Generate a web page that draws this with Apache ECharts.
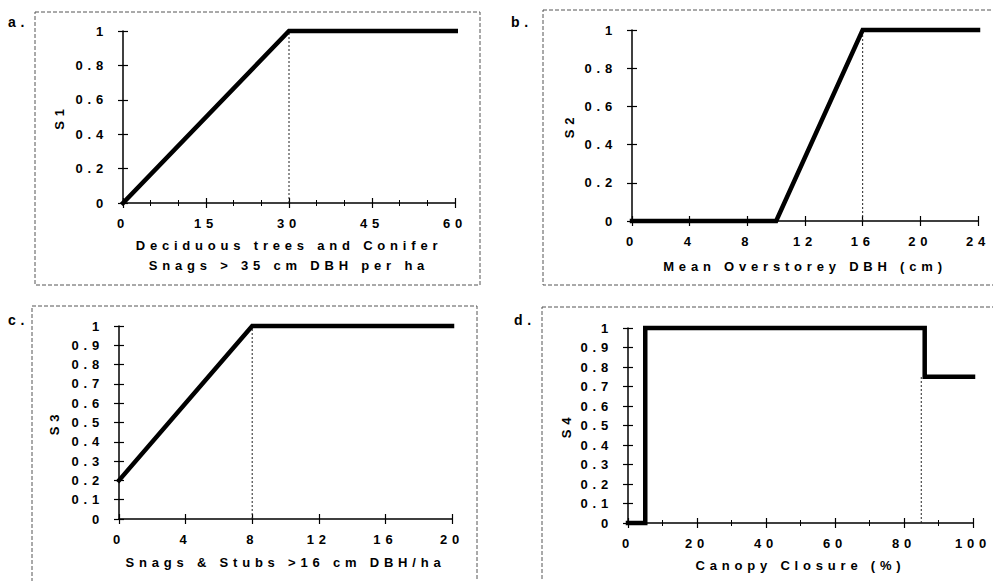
<!DOCTYPE html>
<html>
<head>
<meta charset="utf-8">
<script src="https://cdn.jsdelivr.net/npm/echarts@6/dist/echarts.min.js"></script>
<style>
    html, body { margin: 0; padding: 0; background: #fff; }
    #chart { width: 993px; height: 581px; }
    #chart text { letter-spacing: 4.8px; }
</style>
</head>
<body>
<div id="chart"></div>
<script>
// a. deciduous trees / conifer snags
const xA = [0, 30, 62];
const sA = [0, 1, 1];
const ticksA = [0, 15, 30, 45, 60];
const refA = 30;

// b. mean overstorey DBH
const xB = [0, 10, 16, 24];
const sB = [0, 0, 1, 1];
const ticksB = [0, 4, 8, 12, 16, 20, 24];
const refB = 16;

// c. snags & stubs
const xC = [0, 8, 20];
const sC = [0.2, 1, 1];
const ticksC = [0, 4, 8, 12, 16, 20];
const refC = 8;

// d. canopy closure
const xD = [0, 5, 5, 86, 86, 100];
const sD = [0, 0, 1, 1, 0.75, 0.75];
const ticksD = [0, 20, 40, 60, 80, 100];
const refD = 85;
const refTopD = 0.75;

const font = '"Liberation Sans", Arial, sans-serif';
const black = '#000';

const panels = [
    {
        x: xA, y: sA, ticks: ticksA, ref: refA, refTop: 1, yStep: 0.2, minor: 3,
        grid: {left: 123, top: 31, width: 332, height: 172},
        xName: 'Deciduous trees and Conifer\nSnags > 35 cm DBH per ha', xGap: 32,
        yName: 'S1', yGap: 57
    },
    {
        x: xB, y: sB, ticks: ticksB, ref: refB, refTop: 1, yStep: 0.2, minor: 0,
        grid: {left: 632, top: 30, width: 346, height: 191},
        xName: 'Mean Overstorey DBH (cm)', xGap: 35,
        yName: 'S2', yGap: 56
    },
    {
        x: xC, y: sC, ticks: ticksC, ref: refC, refTop: 1, yStep: 0.1, minor: 0,
        grid: {left: 119, top: 326, width: 333, height: 193},
        xName: 'Snags & Stubs >16 cm DBH/ha', xGap: 33,
        yName: 'S3', yGap: 58
    },
    {
        x: xD, y: sD, ticks: ticksD, ref: refD, refTop: refTopD, yStep: 0.1, minor: 2,
        grid: {left: 628, top: 328, width: 345, height: 195},
        xName: 'Canopy Closure (%)', xGap: 32,
        yName: 'S4', yGap: 55
    }
];

const labelStyle = {color: black, fontSize: 13, fontWeight: 'bold', fontFamily: font};

let grids = [], xAxes = [], yAxes = [], series = [];

panels.forEach(function(p, i) {
    grids.push(p.grid);
    let tickStep = p.ticks[1] - p.ticks[0];
    let xBase = {
        type: 'value', gridIndex: i, position: 'bottom',
        min: p.ticks[0], max: p.ticks[p.ticks.length - 1], interval: tickStep,
        splitLine: {show: false}
    };
    let yBase = {
        type: 'value', gridIndex: i, position: 'left',
        min: 0, max: 1, interval: p.yStep,
        splitLine: {show: false}
    };
    // outer axes with labels
    xAxes.push(Object.assign({}, xBase, {
        axisLine: {show: true, lineStyle: {color: black, width: 1.5}},
        axisTick: {show: true, length: 5, lineStyle: {color: black, width: 1.2}},
        minorTick: {show: p.minor > 0, splitNumber: p.minor || 5, length: 3, lineStyle: {color: black}},
        axisLabel: Object.assign({margin: 14}, labelStyle),
        name: p.xName, nameLocation: 'middle', nameGap: p.xGap,
        nameTextStyle: Object.assign({lineHeight: 20}, labelStyle)
    }));
    yAxes.push(Object.assign({}, yBase, {
        axisLine: {show: true, lineStyle: {color: black, width: 1.5}},
        axisTick: {show: true, length: 5, lineStyle: {color: black, width: 1.2}},
        axisLabel: Object.assign({margin: 15}, labelStyle),
        name: p.yName, nameLocation: 'middle', nameGap: p.yGap, nameRotate: 90,
        nameTextStyle: labelStyle
    }));
    // inner copies so the ticks cross the axis lines
    xAxes.push(Object.assign({}, xBase, {
        axisLine: {show: false},
        axisTick: {show: true, inside: true, length: 5, lineStyle: {color: black, width: 1.2}},
        minorTick: {show: p.minor > 0, splitNumber: p.minor || 5, length: 3, lineStyle: {color: black}},
        axisLabel: {show: false}
    }));
    yAxes.push(Object.assign({}, yBase, {
        axisLine: {show: false},
        axisTick: {show: true, inside: true, length: 5, lineStyle: {color: black, width: 1.2}},
        axisLabel: {show: false}
    }));

    series.push({
        type: 'line',
        xAxisIndex: i * 2, yAxisIndex: i * 2,
        data: [[p.ref, 0], [p.ref, p.refTop]],
        symbol: 'none',
        lineStyle: {color: '#222', width: 1, type: [2, 2]},
        z: 1,
        silent: true
    });
    series.push({
        type: 'line',
        xAxisIndex: i * 2, yAxisIndex: i * 2,
        data: p.x.map(function(v, k) { return [v, p.y[k]]; }),
        symbol: 'none',
        clip: false,
        lineStyle: {color: black, width: 4.5, cap: 'square', join: 'miter'},
        z: 3
    });
});

function frame(x, y, w, h) {
    return {
        type: 'rect', silent: true,
        shape: {x: x, y: y, width: w, height: h},
        style: {fill: null, stroke: '#555', lineWidth: 1, lineDash: [4, 2]}
    };
}
function tag(t, x, y) {
    return {
        type: 'text', silent: true, x: x, y: y,
        style: {text: t, fill: black, font: 'bold 14px ' + font, verticalAlign: 'middle'}
    };
}

let chart = echarts.init(document.getElementById('chart'), null, {renderer: 'svg'});
chart.setOption({
    backgroundColor: '#fff',
    animation: false,
    grid: grids,
    xAxis: xAxes,
    yAxis: yAxes,
    series: series,
    graphic: [
        frame(35, 12, 445, 273),
        frame(543, 10, 470, 275),
        frame(32, 306, 445, 290),
        frame(542, 307, 470, 290),
        tag('a.', 8, 22),
        tag('b.', 511, 22),
        tag('c.', 8, 320),
        tag('d.', 514, 320)
    ]
});
</script>
</body>
</html>
